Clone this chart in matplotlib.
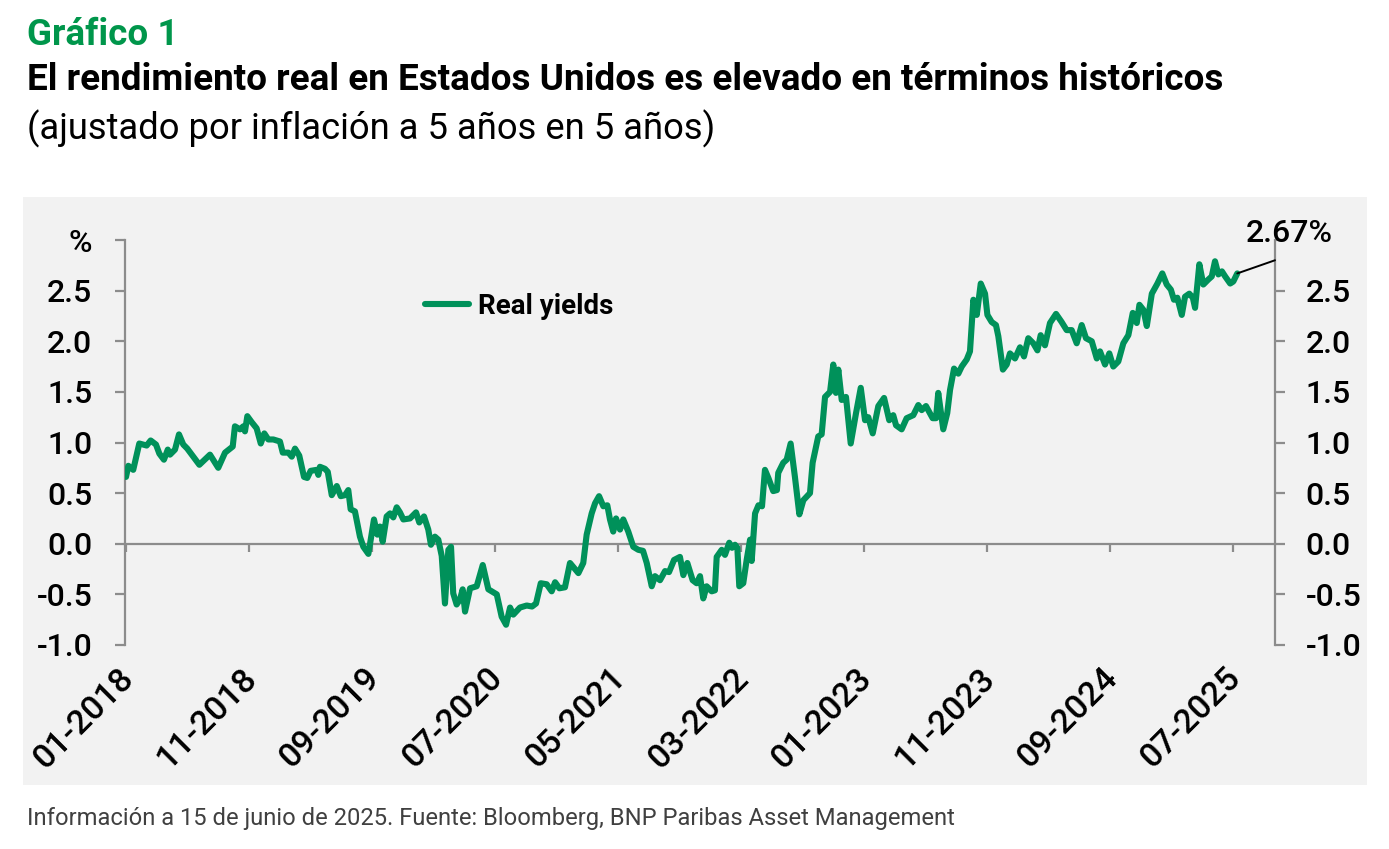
import matplotlib
matplotlib.use('Agg')
import matplotlib.pyplot as plt
from matplotlib.patches import Rectangle

plt.rcParams['font.family'] = ['Roboto', 'DejaVu Sans']

# ---- data (decimal year, % real yield 5y5y) ----
years = [
    2018.000, 2018.016, 2018.049, 2018.090, 2018.140, 2018.167, 2018.203, 2018.226, 2018.257, 2018.283,
    2018.298, 2018.332, 2018.359, 2018.388, 2018.415, 2018.456, 2018.497, 2018.569, 2018.625, 2018.671,
    2018.723, 2018.738, 2018.772, 2018.795, 2018.806, 2018.822, 2018.852, 2018.885, 2018.913, 2018.937,
    2018.964, 2018.998, 2019.043, 2019.062, 2019.100, 2019.123, 2019.145, 2019.174, 2019.206, 2019.228,
    2019.251, 2019.292, 2019.303, 2019.314, 2019.348, 2019.367, 2019.394, 2019.428, 2019.455, 2019.484,
    2019.506, 2019.522, 2019.551, 2019.585, 2019.608, 2019.642, 2019.658, 2019.680, 2019.703, 2019.721,
    2019.739, 2019.766, 2019.789, 2019.811, 2019.834, 2019.856, 2019.879, 2019.924, 2019.965, 2019.987,
    2020.019, 2020.048, 2020.066, 2020.093, 2020.116, 2020.139, 2020.161, 2020.184, 2020.202, 2020.217,
    2020.240, 2020.263, 2020.281, 2020.297, 2020.331, 2020.376, 2020.417, 2020.455, 2020.512, 2020.545,
    2020.575, 2020.602, 2020.624, 2020.669, 2020.715, 2020.751, 2020.778, 2020.810, 2020.850, 2020.884,
    2020.907, 2020.936, 2020.974, 2021.008, 2021.065, 2021.098, 2021.121, 2021.155, 2021.178, 2021.205,
    2021.234, 2021.261, 2021.279, 2021.301, 2021.320, 2021.347, 2021.369, 2021.403, 2021.437, 2021.471,
    2021.503, 2021.528, 2021.562, 2021.584, 2021.618, 2021.652, 2021.679, 2021.713, 2021.753, 2021.776,
    2021.803, 2021.839, 2021.866, 2021.889, 2021.911, 2021.934, 2021.968, 2021.990, 2022.002, 2022.036,
    2022.058, 2022.087, 2022.106, 2022.126, 2022.142, 2022.155, 2022.182, 2022.205, 2022.228, 2022.239,
    2022.262, 2022.285, 2022.309, 2022.329, 2022.352, 2022.385, 2022.410, 2022.419, 2022.453, 2022.476,
    2022.503, 2022.532, 2022.562, 2022.589, 2022.634, 2022.652, 2022.690, 2022.713, 2022.736, 2022.770,
    2022.792, 2022.810, 2022.826, 2022.849, 2022.878, 2022.910, 2022.946, 2022.978, 2023.007, 2023.029,
    2023.059, 2023.097, 2023.136, 2023.171, 2023.198, 2023.217, 2023.255, 2023.289, 2023.334, 2023.368,
    2023.391, 2023.420, 2023.465, 2023.488, 2023.503, 2023.537, 2023.564, 2023.583, 2023.610, 2023.639,
    2023.662, 2023.696, 2023.718, 2023.741, 2023.764, 2023.791, 2023.820, 2023.836, 2023.865, 2023.894,
    2023.910, 2023.941, 2023.967, 2023.989, 2024.023, 2024.057, 2024.084, 2024.113, 2024.147, 2024.175,
    2024.197, 2024.226, 2024.260, 2024.301, 2024.339, 2024.373, 2024.407, 2024.441, 2024.475, 2024.504,
    2024.543, 2024.577, 2024.599, 2024.633, 2024.662, 2024.689, 2024.723, 2024.757, 2024.791, 2024.821,
    2024.848, 2024.866, 2024.893, 2024.916, 2024.950, 2024.988, 2025.021, 2025.051, 2025.079, 2025.100,
    2025.123, 2025.153, 2025.175, 2025.204, 2025.228, 2025.243, 2025.272, 2025.299, 2025.333, 2025.356,
    2025.378, 2025.401, 2025.425, 2025.447, 2025.481, 2025.502, 2025.529,
]
real_yields = [
    0.66, 0.77, 0.73, 0.99, 0.97, 1.02, 0.98, 0.89, 0.83, 0.93,
    0.88, 0.93, 1.08, 0.98, 0.94, 0.86, 0.78, 0.88, 0.75, 0.90,
    0.96, 1.16, 1.13, 1.16, 1.11, 1.26, 1.20, 1.14, 0.99, 1.09,
    1.03, 1.03, 1.01, 0.90, 0.90, 0.86, 0.94, 0.87, 0.66, 0.65,
    0.72, 0.73, 0.68, 0.76, 0.74, 0.71, 0.48, 0.57, 0.47, 0.48,
    0.53, 0.34, 0.32, 0.07, -0.03, -0.10, 0.04, 0.24, 0.09, 0.17,
    0.02, 0.27, 0.30, 0.26, 0.36, 0.31, 0.24, 0.25, 0.31, 0.21,
    0.27, 0.14, -0.01, 0.07, 0.04, -0.12, -0.59, -0.06, -0.03, -0.49,
    -0.60, -0.55, -0.45, -0.67, -0.44, -0.42, -0.21, -0.45, -0.50, -0.72,
    -0.80, -0.63, -0.70, -0.63, -0.61, -0.62, -0.59, -0.39, -0.40, -0.47,
    -0.38, -0.44, -0.43, -0.19, -0.29, -0.19, 0.09, 0.30, 0.40, 0.47,
    0.37, 0.38, 0.24, 0.12, 0.25, 0.14, 0.24, 0.12, -0.03, -0.06,
    -0.07, -0.19, -0.42, -0.32, -0.36, -0.27, -0.28, -0.16, -0.13, -0.31,
    -0.19, -0.36, -0.39, -0.32, -0.54, -0.42, -0.47, -0.46, -0.13, -0.06,
    -0.11, 0.01, -0.04, -0.01, -0.04, -0.42, -0.39, -0.16, 0.04, -0.17,
    0.30, 0.38, 0.37, 0.73, 0.65, 0.52, 0.53, 0.70, 0.80, 0.83,
    0.99, 0.66, 0.29, 0.43, 0.50, 0.80, 1.06, 1.08, 1.45, 1.50,
    1.77, 1.49, 1.72, 1.42, 1.45, 0.99, 1.29, 1.54, 1.22, 1.25,
    1.09, 1.36, 1.44, 1.22, 1.27, 1.17, 1.13, 1.24, 1.27, 1.37,
    1.32, 1.36, 1.24, 1.24, 1.49, 1.13, 1.29, 1.52, 1.73, 1.68,
    1.75, 1.82, 1.90, 2.41, 2.26, 2.57, 2.47, 2.26, 2.19, 2.16,
    2.05, 1.72, 1.77, 1.88, 1.83, 1.94, 1.85, 2.03, 1.98, 1.91,
    2.06, 1.96, 2.18, 2.27, 2.19, 2.11, 2.11, 1.98, 2.16, 2.03,
    2.00, 1.83, 1.90, 1.77, 1.88, 1.75, 1.80, 1.98, 2.06, 2.28,
    2.18, 2.36, 2.31, 2.15, 2.47, 2.57, 2.67, 2.56, 2.51, 2.41,
    2.43, 2.26, 2.44, 2.47, 2.43, 2.33, 2.76, 2.56, 2.61, 2.64,
    2.79, 2.66, 2.69, 2.64, 2.57, 2.59, 2.67,
]
series_name = 'Real yields'
last_label = '2.67%'
x_tick_pos = [2018.0, 2018 + 10/12, 2019 + 8/12, 2020 + 6/12, 2021 + 4/12,
              2022 + 2/12, 2023.0, 2023 + 10/12, 2024 + 8/12, 2025 + 6/12]
x_tick_labels = ['01-2018', '11-2018', '09-2019', '07-2020', '05-2021',
                 '03-2022', '01-2023', '11-2023', '09-2024', '07-2025']
y_ticks = [-1.0, -0.5, 0.0, 0.5, 1.0, 1.5, 2.0, 2.5, 3.0]
y_left_labels = ['-1.0', '-0.5', '0.0', '0.5', '1.0', '1.5', '2.0', '2.5', '%']
y_right_labels = ['-1.0', '-0.5', '0.0', '0.5', '1.0', '1.5', '2.0', '2.5', '']

GREEN = '#00915A'
TITLE_GREEN = '#00964B'
AXC = '#8C8C8C'
BG = '#F2F2F2'

W, H = 1389, 849
fig = plt.figure(figsize=(W / 100, H / 100), dpi=100)
fig.patch.set_facecolor('white')

# grey panel
fig.patches.append(Rectangle((23 / W, 1 - 785 / H), 1344 / W, 588 / H,
                             transform=fig.transFigure, facecolor=BG,
                             edgecolor='none', zorder=-10))

ax = fig.add_axes([125 / W, 1 - 645 / H, 1150 / W, 405 / H])
ax.set_zorder(2)
ax.set_facecolor('none')
ax.plot(years, real_yields, color=GREEN, lw=4.4, solid_joinstyle='round',
        solid_capstyle='round', label=series_name, zorder=3)

ax.set_xlim(2018 + (125 - 126) / 147.6, 2018 + (1275 - 126) / 147.6)
ax.set_ylim(-1.0, 3.0)

for s in ['top', 'right']:
    ax.spines[s].set_visible(False)
ax.spines['left'].set_color(AXC)
ax.spines['left'].set_linewidth(1.6)
ax.spines['bottom'].set_position(('data', 0))
ax.spines['bottom'].set_color(AXC)
ax.spines['bottom'].set_linewidth(1.6)

TICK_FONT = {'size': 23, 'weight': 'medium'}

ax.set_yticks(y_ticks)
ax.set_yticklabels(y_left_labels, fontdict=TICK_FONT)
ax.tick_params(axis='y', direction='out', length=7.5, width=1.6, color=AXC,
               pad=16, labelcolor='black')
ax.set_xticks(x_tick_pos)
ax.set_xticklabels([])
ax.tick_params(axis='x', direction='out', length=6, width=1.6, color=AXC)

ax2 = ax.twinx()
ax2.set_zorder(1)
ax2.set_ylim(-1.0, 3.0)
for s in ['top', 'left', 'bottom']:
    ax2.spines[s].set_visible(False)
ax2.spines['right'].set_color(AXC)
ax2.spines['right'].set_linewidth(1.6)
ax2.set_yticks(y_ticks)
ax2.set_yticklabels(y_right_labels, fontdict=TICK_FONT)
ax2.tick_params(axis='y', direction='out', length=7, width=1.6, color=AXC,
                pad=15, labelcolor='black')

# x labels at the bottom of the plot area
for xp, lab in zip(x_tick_pos, x_tick_labels):
    ax.annotate(lab, xy=(xp, -1.0), xycoords='data', xytext=(-9, -17),
                textcoords='offset pixels', rotation=45, ha='right', va='top',
                rotation_mode='anchor', fontsize=24.5, fontweight='medium',
                color='black', annotation_clip=False)

# last value annotation
ax.annotate('', xy=(years[-1], real_yields[-1]), xycoords='data',
            xytext=(ax.get_xlim()[1], 2.80), textcoords='data',
            arrowprops=dict(arrowstyle='-', color='black', lw=1.4,
                            shrinkA=0, shrinkB=0), annotation_clip=False)
ax.text(2018 + (1289 - 126) / 147.6, 3.06, last_label, ha='center', va='center',
        fontsize=23, fontweight='medium', color='black', clip_on=False)

# legend
leg = ax.legend(loc='center left', bbox_to_anchor=(425 / W, 1 - 306 / H),
                bbox_transform=fig.transFigure, frameon=False, borderpad=0,
                borderaxespad=0, handlelength=1.6, handletextpad=0.3,
                prop={'size': 20, 'weight': 'semibold'})

# titles
fig.text(27 / W, 1 - 35 / H, 'Gráfico 1', color=TITLE_GREEN, fontsize=26.5,
         fontweight='bold', va='center', ha='left')
fig.text(27 / W, 1 - 80 / H,
         'El rendimiento real en Estados Unidos es elevado en términos históricos',
         color='black', fontsize=26.6, fontweight='bold', va='center', ha='left')
fig.text(27 / W, 1 - 129 / H, '(ajustado por inflación a 5 años en 5 años)',
         color='black', fontsize=26.2, va='center', ha='left')
fig.text(27 / W, 1 - 818 / H,
         'Información a 15 de junio de 2025. Fuente: Bloomberg, BNP Paribas Asset Management',
         color='#404040', fontsize=17.1, va='center', ha='left')

fig.savefig('out.png', dpi=100, facecolor='white')
